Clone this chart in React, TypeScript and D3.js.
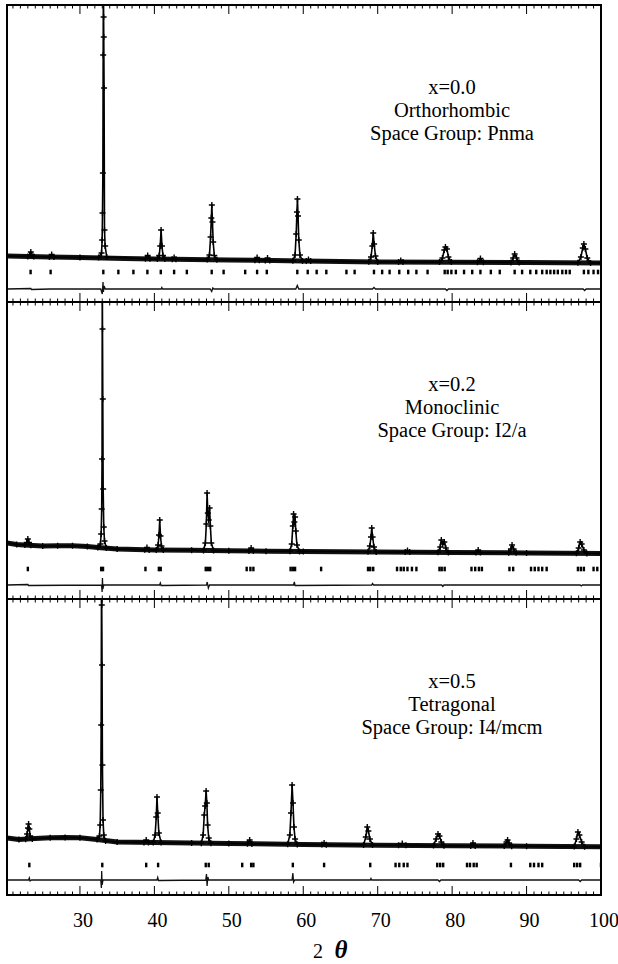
import { useEffect, useRef } from 'react';
import * as d3 from 'd3';

type Pt = [number, number];

const xDomain: [number, number] = [20.2, 100];
const xTickLabels = [30, 40, 50, 60, 70, 80, 90, 100];

const text1 = ['x=0.0', 'Orthorhombic', 'Space Group: Pnma'];
const text2 = ['x=0.2', 'Monoclinic', 'Space Group: I2/a'];
const text3 = ['x=0.5', 'Tetragonal', 'Space Group: I4/mcm'];

// ---- x = 0.0 ----
const bg1: Pt[] = [[20.2, 1600], [23, 1560], [26, 1500], [30, 1450], [36, 1350], [40, 1300], [45, 1250], [50, 1200], [56, 1150], [60, 1100], [65, 1050], [70, 1000], [80, 980], [90, 950], [100, 900]];
const obs1: Pt[] = [
  [20.2, 1600], [23.0, 1560], [23.25, 1700], [23.4, 2000], [23.55, 1700], [23.8, 1550],
  [25.9, 1500], [26.2, 1750], [26.5, 1500], [30, 1450], [32.5, 1450],
  [32.9, 1900], [32.98, 3200], [33.03, 5900], [33.08, 9900], [33.12, 21700], [33.15, 30000], [33.18, 25500], [33.2, 23500], [33.24, 18400], [33.3, 4200], [33.38, 2600], [33.6, 1500],
  [38.8, 1330], [39.1, 1650], [39.4, 1320],
  [40.4, 1300], [40.65, 1650], [40.78, 2600], [40.9, 4200], [41.02, 2600], [41.15, 1650], [41.4, 1300],
  [42.4, 1280], [42.65, 1450], [42.9, 1280],
  [47.1, 1240], [47.4, 1700], [47.55, 3500], [47.65, 5400], [47.72, 6700], [47.8, 5000], [47.9, 3000], [48.05, 1650], [48.4, 1230],
  [53.5, 1180], [53.8, 1450], [54.1, 1170], [54.9, 1160], [55.2, 1400], [55.5, 1150],
  [58.6, 1120], [58.9, 1700], [59.05, 3800], [59.15, 6000], [59.22, 7300], [59.3, 5600], [59.4, 3200], [59.55, 1700], [59.9, 1100],
  [60.4, 1090], [60.7, 1250], [61.0, 1090],
  [68.8, 1020], [69.1, 1500], [69.28, 2600], [69.4, 3900], [69.52, 2800], [69.7, 1600], [70.0, 1010],
  [72.8, 1000], [73.1, 1150], [73.4, 1000],
  [78.3, 990], [78.7, 1400], [78.95, 2200], [79.1, 2500], [79.3, 2300], [79.5, 1500], [79.9, 990],
  [83.4, 975], [83.8, 1350], [84.2, 970],
  [87.9, 960], [88.2, 1400], [88.4, 1800], [88.65, 1400], [89.0, 955],
  [96.9, 930], [97.3, 1500], [97.55, 2400], [97.7, 2800], [97.9, 2300], [98.15, 1400], [98.6, 910], [100, 900],
];
const diff1: Pt[] = [
  [20.2, -1700], [23.4, -1650], [23.5, -1750], [26, -1700], [32.8, -1700], [33.0, -2200], [33.1, -1000], [33.15, -2000], [33.25, -1400], [33.4, -1700],
  [40.9, -1700], [41.0, -1550], [41.1, -1700], [47.5, -1700], [47.7, -1950], [47.85, -1600], [48.0, -1700],
  [59.0, -1700], [59.2, -1350], [59.4, -1700], [69.3, -1700], [69.5, -1550], [69.7, -1700],
  [79.1, -1700], [79.3, -1850], [79.5, -1700], [97.6, -1700], [97.8, -1850], [98, -1700], [100, -1700],
];
const bragg1 = [23.37, 26.06, 33.14, 35.16, 37.18, 39.06, 40.86, 42.65, 44.36, 47.7, 49.3, 52.2, 53.8, 55.1, 59.2, 60.6, 61.8, 63.1, 65.8, 66.9, 69.5, 70.6, 71.6, 72.9, 74.1, 75.2, 76.7, 79.0, 79.4, 79.9, 80.5, 81.6, 82.7, 83.8, 85.2, 86.4, 88.4, 89.4, 90.5, 91.3, 92.1, 92.7, 93.2, 93.7, 94.2, 94.8, 95.3, 95.8, 97.7, 98.3, 99.0, 99.6];

// ---- x = 0.2 ----
const bg2: Pt[] = [[20.2, 2600], [21.5, 2450], [22.5, 2400], [25, 2300], [27, 2330], [29, 2330], [31, 2250], [32.4, 2150], [35, 2000], [40, 1900], [45, 1880], [50, 1820], [55, 1780], [60, 1760], [70, 1700], [80, 1660], [90, 1600], [100, 1550]];
const obs2: Pt[] = [
  [20.2, 2600], [21.5, 2450], [22.6, 2400], [22.85, 2650], [23.0, 3000], [23.15, 2650], [23.4, 2380],
  [25, 2300], [27, 2330], [29, 2330], [31, 2250], [32.4, 2150],
  [32.75, 2500], [32.85, 3500], [32.92, 6000], [32.97, 11000], [33.0, 30000], [33.03, 24000], [33.07, 17000], [33.12, 8000], [33.2, 4200], [33.3, 2800], [33.55, 2100],
  [35, 2000], [38.7, 1920], [39.0, 2150], [39.3, 1910],
  [40.25, 1900], [40.5, 2400], [40.62, 3400], [40.72, 4900], [40.82, 3300], [40.95, 2300], [41.2, 1900],
  [45, 1880], [46.6, 1850], [46.85, 2600], [46.98, 4500], [47.08, 7600], [47.18, 5600], [47.3, 4900], [47.42, 6100], [47.52, 4300], [47.65, 2600], [47.95, 1840],
  [50, 1820], [52.7, 1800], [53.0, 2100], [53.3, 1800],
  [55, 1780], [58.2, 1770], [58.45, 2500], [58.6, 4300], [58.7, 5500], [58.8, 4700], [58.9, 5200], [59.0, 3800], [59.15, 2400], [59.5, 1760],
  [60, 1760], [68.7, 1720], [68.95, 2300], [69.1, 3200], [69.2, 4100], [69.32, 3200], [69.5, 2200], [69.8, 1710],
  [73.7, 1690], [74.0, 1850], [74.3, 1690],
  [78.1, 1670], [78.4, 2200], [78.55, 2900], [78.75, 2500], [78.95, 2700], [79.15, 2100], [79.5, 1660],
  [83.2, 1640], [83.5, 1900], [83.8, 1640],
  [87.6, 1620], [87.9, 2000], [88.05, 2400], [88.25, 2000], [88.6, 1615],
  [90, 1600], [96.7, 1570], [97.0, 2100], [97.2, 2700], [97.4, 2500], [97.7, 1900], [98.1, 1560], [100, 1550],
];
const diff2: Pt[] = [
  [20.2, -1600], [23, -1550], [23.1, -1650], [32.9, -1600], [32.98, -2300], [33.02, -900], [33.08, -2000], [33.2, -1600],
  [40.7, -1600], [40.8, -1400], [40.9, -1650], [47.0, -1600], [47.1, -1300], [47.25, -1900], [47.4, -1600],
  [58.7, -1600], [58.8, -1300], [58.9, -1650], [69.2, -1600], [69.3, -1450], [69.45, -1600],
  [78.6, -1600], [78.75, -1750], [78.9, -1600], [97.2, -1600], [97.35, -1700], [97.5, -1600], [100, -1600],
];
const bragg2 = [23.0, 32.85, 33.1, 38.8, 40.6, 40.85, 46.9, 47.2, 47.5, 52.4, 52.9, 53.3, 58.3, 58.6, 58.9, 62.4, 68.7, 69.0, 69.4, 72.6, 73.1, 73.5, 74.0, 74.6, 75.2, 78.3, 78.6, 79.0, 82.6, 83.1, 83.6, 84.0, 87.7, 88.2, 90.6, 91.1, 91.6, 92.1, 92.7, 96.9, 97.3, 97.7, 99.0, 99.5];

// ---- x = 0.5 ----
const bg3: Pt[] = [[20.2, 2700], [21.8, 2550], [24, 2650], [26, 2720], [28, 2760], [30, 2720], [32.3, 2550], [35, 2300], [40, 2250], [45, 2200], [50, 2150], [60, 2050], [70, 1980], [80, 1920], [90, 1880], [100, 1820]];
const obs3: Pt[] = [
  [20.2, 2700], [21.8, 2550], [22.7, 2580], [22.9, 3100], [23.02, 3700], [23.1, 4100], [23.2, 3600], [23.32, 2900], [23.6, 2600],
  [26, 2720], [28, 2760], [30, 2720], [32.3, 2550],
  [32.62, 2900], [32.72, 4000], [32.8, 7500], [32.85, 14000], [32.9, 30000], [32.93, 26000], [32.97, 20000], [33.02, 10000], [33.1, 4500], [33.2, 3000], [33.45, 2400],
  [35, 2300], [38.6, 2260], [38.9, 2500], [39.2, 2250],
  [39.85, 2250], [40.1, 3000], [40.25, 4800], [40.35, 6800], [40.45, 5200], [40.6, 3200], [40.9, 2240],
  [45, 2200], [46.3, 2180], [46.55, 3000], [46.7, 5000], [46.82, 5900], [46.95, 7400], [47.05, 6200], [47.15, 4000], [47.3, 2700], [47.6, 2170],
  [50, 2150], [52.5, 2120], [52.8, 2500], [53.1, 2110],
  [57.9, 2070], [58.2, 3000], [58.35, 5200], [58.5, 8000], [58.62, 6200], [58.75, 3800], [58.9, 2600], [59.2, 2060],
  [62.5, 2040], [62.8, 2200], [63.1, 2035],
  [68.1, 2000], [68.4, 2800], [68.6, 3800], [68.75, 3400], [68.95, 2600], [69.3, 1990],
  [72.8, 1970], [73.3, 2150], [73.8, 1965],
  [77.5, 1940], [77.85, 2600], [78.1, 3100], [78.3, 2900], [78.55, 2300], [78.9, 1930],
  [82.5, 1910], [82.8, 2200], [83.1, 1905],
  [87.0, 1890], [87.3, 2300], [87.45, 2500], [87.65, 2200], [88.0, 1885],
  [90, 1880], [96.4, 1840], [96.7, 2600], [96.9, 3300], [97.1, 3000], [97.4, 2300], [97.8, 1835], [100, 1820],
];
const diff3: Pt[] = [
  [20.2, -1500], [23.1, -1500], [23.2, -1300], [23.3, -1600], [23.5, -1500], [32.8, -1500], [32.88, -2300], [32.92, -600], [32.98, -2000], [33.1, -1500],
  [40.35, -1500], [40.45, -1250], [40.55, -1550], [46.9, -1500], [47.0, -900], [47.08, -2100], [47.18, -1200], [47.3, -1500],
  [58.5, -1500], [58.6, -800], [58.7, -1700], [58.85, -1500], [69, -1500], [69.1, -1350], [69.2, -1500],
  [78.1, -1500], [78.3, -1650], [78.5, -1500], [97, -1500], [97.2, -1650], [97.4, -1500], [100, -1500],
];
const bragg3 = [23.2, 33.0, 38.9, 40.5, 46.9, 47.3, 51.8, 53.0, 53.3, 58.6, 62.8, 69.0, 72.4, 72.9, 73.5, 74.0, 78.0, 78.4, 78.8, 82.0, 82.4, 82.9, 83.3, 87.9, 90.5, 91.0, 91.6, 92.1, 96.4, 96.8, 97.2, 100.0];

const panels = [
  { bg: bg1, obs: obs1, diff: diff1, bragg: bragg1, text: text1 },
  { bg: bg2, obs: obs2, diff: diff2, bragg: bragg2, text: text2 },
  { bg: bg3, obs: obs3, diff: diff3, bragg: bragg3, text: text3 },
];

export default function App() {
  const ref = useRef<SVGSVGElement>(null);

  useEffect(() => {
    if (!ref.current) return;
    const svg = d3.select(ref.current);
    svg.selectAll('*').remove();

    const left = 7, right = 601;
    const edges = [5, 302, 599, 895];
    const serif = "'Liberation Serif', 'Times New Roman', serif";

    const x = d3.scaleLinear().domain(xDomain).range([left, right]);
    const minor = d3.range(21, 101, 1);
    const major = d3.range(30, 101, 10);

    const defs = svg.append('defs');

    panels.forEach((p, i) => {
      const top = edges[i], bottom = edges[i + 1];
      const y = d3.scaleLinear().domain([-3000, 26700]).range([bottom, bottom - 297]);
      const clipId = `clip-${i}`;
      defs.append('clipPath').attr('id', clipId)
        .append('rect').attr('x', left).attr('y', top + 1).attr('width', right - left).attr('height', bottom - top - 2);

      const g = svg.append('g').attr('clip-path', `url(#${clipId})`);
      const line = d3.line<Pt>().x(d => x(d[0])).y(d => y(d[1]));

      // background band (dense observed points)
      g.append('path').attr('d', line(p.bg)).attr('fill', 'none')
        .attr('stroke', '#111').attr('stroke-width', 5).attr('stroke-linejoin', 'round');

      // calculated profile
      g.append('path').attr('d', line(p.obs)).attr('fill', 'none')
        .attr('stroke', '#000').attr('stroke-width', 1.6).attr('stroke-linejoin', 'round');

      // observed crosses
      g.append('path')
        .attr('d', p.obs.map(d => {
          const cx = x(d[0]), cy = y(d[1]);
          return `M${cx - 3},${cy}h6M${cx},${cy - 3}v6`;
        }).join(''))
        .attr('fill', 'none').attr('stroke', '#000').attr('stroke-width', 1.4);

      // Bragg positions
      g.selectAll('.bragg').data(p.bragg).enter().append('line')
        .attr('x1', d => x(d)).attr('x2', d => x(d))
        .attr('y1', y(-230)).attr('y2', y(230))
        .attr('stroke', '#000').attr('stroke-width', 2.4);

      // difference curve
      g.append('path').attr('d', line(p.diff)).attr('fill', 'none')
        .attr('stroke', '#111').attr('stroke-width', 1.3);

      // labels
      p.text.forEach((t, k) => {
        svg.append('text')
          .attr('x', 452).attr('y', top + 89 + k * 23)
          .attr('text-anchor', 'middle')
          .attr('font-family', serif).attr('font-size', 20.5)
          .attr('fill', '#000')
          .text(t);
      });
    });

    // tick marks on every horizontal edge
    edges.forEach((ey, k) => {
      const down = k < 3, up = k > 0;
      const tk = svg.append('g').attr('stroke', '#000').attr('stroke-width', 1);
      minor.forEach(v => {
        const len = major.includes(v) ? 9 : 3.5;
        const y1 = up ? ey - len : ey;
        const y2 = down ? ey + len : ey;
        tk.append('line').attr('x1', x(v)).attr('x2', x(v)).attr('y1', y1).attr('y2', y2);
      });
    });

    // frame and dividers
    svg.append('rect').attr('x', left).attr('y', edges[0]).attr('width', right - left).attr('height', edges[3] - edges[0])
      .attr('fill', 'none').attr('stroke', '#000').attr('stroke-width', 2);
    [edges[1], edges[2]].forEach(ey => {
      svg.append('line').attr('x1', left).attr('x2', right).attr('y1', ey).attr('y2', ey)
        .attr('stroke', '#000').attr('stroke-width', 2);
    });

    // x tick labels
    svg.selectAll('.xl').data(xTickLabels).enter().append('text')
      .attr('x', d => x(d) + 3).attr('y', 927)
      .attr('text-anchor', 'middle')
      .attr('font-family', serif).attr('font-size', 20)
      .text(d => d);

    // axis title
    svg.append('text').attr('x', 318).attr('y', 958)
      .attr('text-anchor', 'middle').attr('font-family', serif).attr('font-size', 20)
      .text('2');
    svg.append('text').attr('x', 341).attr('y', 958)
      .attr('text-anchor', 'middle').attr('font-family', serif)
      .attr('font-size', 25).attr('font-style', 'italic').attr('font-weight', 'bold')
      .text('θ');
  }, []);

  return (
    <svg ref={ref} width={618} height={964}
      style={{ position: 'absolute', left: 0, top: 0, background: '#fff' }} />
  );
}
